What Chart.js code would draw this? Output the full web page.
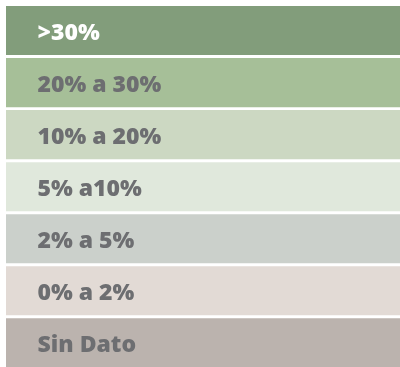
<!DOCTYPE html>
<html>
<head>
<meta charset="utf-8">
<script src="https://cdn.jsdelivr.net/npm/chart.js@4"></script>
<style>
  html, body { margin: 0; padding: 0; background: #ffffff; overflow: hidden; }
  #wrap { position: relative; width: 400px; height: 370px; }
</style>
</head>
<body>
<div id="wrap"><canvas id="chart"></canvas></div>
<script>
// Legend classes, top to bottom
const categories = ['>30%', '20% a 30%', '10% a 20%', '5% a10%', '2% a 5%', '0% a 2%', 'Sin Dato'];
// Every class band spans the full width
const values = [1, 1, 1, 1, 1, 1, 1];
const bandColors = ['#829d7b', '#a6bf98', '#ccd8c2', '#e0e8dc', '#cbd0cb', '#e2dad5', '#bbb3ae'];
const labelColors = ['#ffffff', '#6d6e71', '#6d6e71', '#6d6e71', '#6d6e71', '#6d6e71', '#6d6e71'];

// Draws each class name on the left side of its band
const bandLabels = {
  id: 'bandLabels',
  afterDatasetsDraw(chart) {
    const ctx = chart.ctx;
    const meta = chart.getDatasetMeta(0);
    ctx.save();
    ctx.font = '800 23px "Open Sans"';
    ctx.textAlign = 'left';
    ctx.textBaseline = 'alphabetic';
    meta.data.forEach((bar, i) => {
      ctx.fillStyle = labelColors[i];
      ctx.fillText(chart.data.labels[i], chart.chartArea.left + 31.5, bar.y + 9.6);
    });
    ctx.restore();
  }
};

new Chart(document.getElementById('chart'), {
  type: 'bar',
  data: {
    labels: categories,
    datasets: [{
      data: values,
      backgroundColor: bandColors,
      borderWidth: 0,
      barPercentage: 0.943,
      categoryPercentage: 1.0
    }]
  },
  options: {
    indexAxis: 'y',
    responsive: true,
    maintainAspectRatio: false,
    devicePixelRatio: 1,
    animation: false,
    layout: { padding: { left: 6, right: 0, top: 4.5, bottom: 1.1 } },
    scales: {
      x: { display: false, min: 0, max: 1 },
      y: { display: false }
    },
    plugins: {
      legend: { display: false },
      tooltip: { enabled: false }
    }
  },
  plugins: [bandLabels]
});
</script>
</body>
</html>
